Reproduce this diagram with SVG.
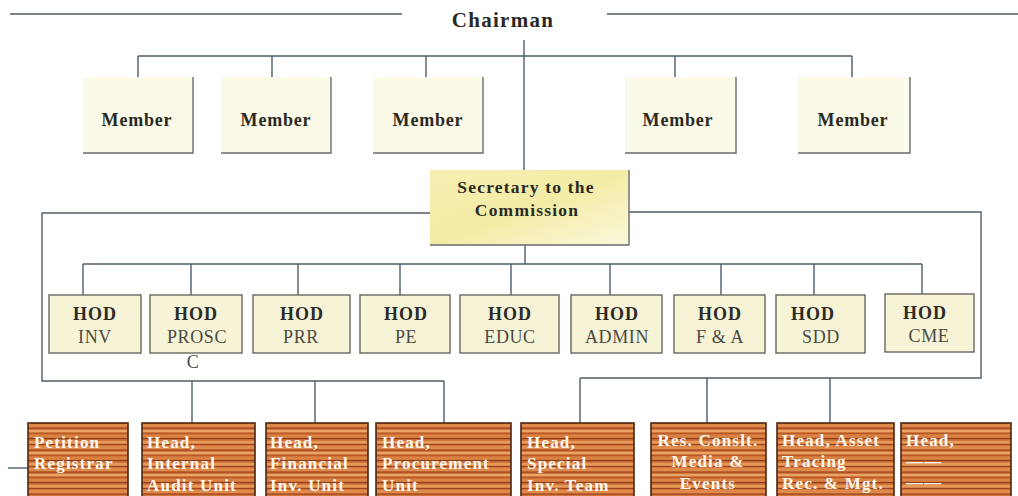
<svg xmlns="http://www.w3.org/2000/svg" width="1018" height="496" viewBox="0 0 1018 496">
<defs>
<style>
.ln{stroke:#4f5d68;stroke-width:1.4;fill:none}
.edge{stroke:#6b6b6b;stroke-width:1.4;fill:none}
.mem{fill:#fbf9e8}
.mt{font-family:"Liberation Serif",serif;font-weight:bold;font-size:18px;fill:#2a2a22;text-anchor:middle;letter-spacing:0.8px}
.hod{fill:#f7f3d6;stroke:#5c5c55;stroke-width:1.3}
.h1{font-family:"Liberation Serif",serif;font-weight:bold;font-size:18px;fill:#2c2c28;text-anchor:middle;letter-spacing:1px}
.h2{font-family:"Liberation Serif",serif;font-size:18px;fill:#4a4a44;text-anchor:middle;letter-spacing:0.6px}
.wood{fill:url(#wood);stroke:#4e2510;stroke-width:1.6}
.wt{font-family:"Liberation Serif",serif;font-weight:bold;font-size:17px;fill:#fff8ee;letter-spacing:1.2px}
</style>
<linearGradient id="sec" x1="0" y1="0" x2="1" y2="1">
<stop offset="0" stop-color="#f6efb2"/>
<stop offset="0.5" stop-color="#f3eca6"/>
<stop offset="1" stop-color="#fbf8dc"/>
</linearGradient>
<pattern id="wood" patternUnits="userSpaceOnUse" width="240" height="22">
<rect width="240" height="22" fill="#d0743a"/>
<rect y="1" width="240" height="2.5" fill="#e59a5c"/>
<rect y="4" width="240" height="1" fill="#9a4520"/>
<rect y="6" width="240" height="3" fill="#dd8a4c"/>
<rect y="9.5" width="240" height="1.3" fill="#a44c22"/>
<rect y="12" width="240" height="2" fill="#eaa566"/>
<rect y="15" width="240" height="1" fill="#b65a28"/>
<rect y="17" width="240" height="2.5" fill="#d98244"/>
<rect y="20" width="240" height="1.2" fill="#8f3e1a"/>
</pattern>
</defs>
<rect width="1018" height="496" fill="#ffffff"/>

<g id="connectors">
<path class="ln" d="M10 14H402M607 14H1018"/>
<path class="ln" d="M524 40V170"/>
<path class="ln" d="M138 56H852M138 56V77M272 56V77M426 56V77M675 56V77M852 56V77"/>
<path class="ln" d="M430 213H42V381H444M629 212H981V378H580"/>
<path class="ln" d="M192 381V423M315 381V423M444 381V423"/>
<path class="ln" d="M580 378V423M707 378V423M830 378V423"/>
<path class="ln" d="M525 245V264M83 264H922M83 264V295M191 264V295M298 264V295M400 264V295M511 264V295M610 264V295M721 264V295M814 264V295M922 264V294"/>
<path class="ln" d="M8 468H28"/>
</g>

<g id="chairman">
<text x="503" y="27" font-family="Liberation Serif, serif" font-weight="bold" font-size="21" fill="#2a2a24" text-anchor="middle" letter-spacing="1.3">Chairman</text>
</g>

<g id="member1"><rect class="mem" x="83" y="77" width="110" height="76"/><path class="edge" d="M83 153H193V77"/><text class="mt" x="137" y="126">Member</text></g>
<g id="member2"><rect class="mem" x="221" y="77" width="110" height="76"/><path class="edge" d="M221 153H331V77"/><text class="mt" x="276" y="126">Member</text></g>
<g id="member3"><rect class="mem" x="373" y="77" width="110" height="76"/><path class="edge" d="M373 153H483V77"/><text class="mt" x="428" y="126">Member</text></g>
<g id="member4"><rect class="mem" x="625" y="77" width="111" height="76"/><path class="edge" d="M625 153H736V77"/><text class="mt" x="678" y="126">Member</text></g>
<g id="member5"><rect class="mem" x="798" y="77" width="112" height="76"/><path class="edge" d="M798 153H910V77"/><text class="mt" x="853" y="126">Member</text></g>

<g id="secretary">
<rect x="430" y="170" width="199" height="75" fill="url(#sec)"/>
<path class="edge" d="M430 245H629V170"/>
<text x="526" y="193" font-family="Liberation Serif, serif" font-weight="bold" font-size="17.5" fill="#2a2a22" text-anchor="middle" letter-spacing="1.2">Secretary to the</text>
<text x="527" y="216" font-family="Liberation Serif, serif" font-weight="bold" font-size="17.5" fill="#2a2a22" text-anchor="middle" letter-spacing="1.2">Commission</text>
</g>

<g id="hod-inv"><rect class="hod" x="49" y="295" width="92" height="58"/><text class="h1" x="95" y="320">HOD</text><text class="h2" x="95" y="343">INV</text></g>
<g id="hod-prosc"><rect class="hod" x="150" y="295" width="92" height="58"/><text class="h1" x="196" y="320">HOD</text><text class="h2" x="197" y="343" letter-spacing="1.5">PROSC</text><text class="h2" x="193" y="368">C</text></g>
<g id="hod-prr"><rect class="hod" x="253" y="295" width="97" height="58"/><text class="h1" x="302" y="320">HOD</text><text class="h2" x="301" y="343">PRR</text></g>
<g id="hod-pe"><rect class="hod" x="360" y="295" width="90" height="58"/><text class="h1" x="406" y="320">HOD</text><text class="h2" x="406" y="343">PE</text></g>
<g id="hod-educ"><rect class="hod" x="460" y="295" width="99" height="58"/><text class="h1" x="510" y="320">HOD</text><text class="h2" x="510" y="343">EDUC</text></g>
<g id="hod-admin"><rect class="hod" x="571" y="295" width="91" height="58"/><text class="h1" x="617" y="320">HOD</text><text class="h2" x="617" y="343">ADMIN</text></g>
<g id="hod-fa"><rect class="hod" x="674" y="295" width="91" height="58"/><text class="h1" x="720" y="320">HOD</text><text class="h2" x="720" y="343">F &amp; A</text></g>
<g id="hod-sdd"><rect class="hod" x="776" y="295" width="89" height="58"/><text class="h1" x="813" y="320">HOD</text><text class="h2" x="821" y="343">SDD</text></g>
<g id="hod-cme"><rect class="hod" x="885" y="294" width="89" height="58"/><text class="h1" x="925" y="319">HOD</text><text class="h2" x="929" y="342">CME</text></g>

<g id="petition-registrar"><rect class="wood" x="28" y="423" width="100" height="80"/><text class="wt" x="34" y="448">Petition</text><text class="wt" x="34" y="469">Registrar</text></g>
<g id="head-internal-audit"><rect class="wood" x="142" y="423" width="113" height="80"/><text class="wt" x="147" y="448">Head,</text><text class="wt" x="147" y="469">Internal</text><text class="wt" x="147" y="491">Audit Unit</text></g>
<g id="head-financial-inv"><rect class="wood" x="266" y="423" width="102" height="80"/><text class="wt" x="270" y="448">Head,</text><text class="wt" x="270" y="469">Financial</text><text class="wt" x="270" y="491">Inv. Unit</text></g>
<g id="head-procurement"><rect class="wood" x="376" y="423" width="135" height="80"/><text class="wt" x="382" y="448">Head,</text><text class="wt" x="382" y="469">Procurement</text><text class="wt" x="382" y="491">Unit</text></g>
<g id="head-special-inv"><rect class="wood" x="521" y="423" width="113" height="80"/><text class="wt" x="527" y="448">Head,</text><text class="wt" x="527" y="469">Special</text><text class="wt" x="527" y="491">Inv. Team</text></g>
<g id="res-consult"><rect class="wood" x="651" y="423" width="115" height="80"/><text class="wt" x="708" y="446" text-anchor="middle" letter-spacing="0.6">Res. Conslt.</text><text class="wt" x="708" y="467" text-anchor="middle">Media &amp;</text><text class="wt" x="708" y="489" text-anchor="middle">Events</text></g>
<g id="head-asset-tracing"><rect class="wood" x="777" y="423" width="117" height="80"/><text class="wt" x="782" y="446" letter-spacing="0.6">Head, Asset</text><text class="wt" x="782" y="467">Tracing</text><text class="wt" x="782" y="489" letter-spacing="0.6">Rec. &amp; Mgt.</text></g>
<g id="head-blank"><rect class="wood" x="901" y="423" width="110" height="80"/><text class="wt" x="906" y="446">Head,</text><text class="wt" x="906" y="467" font-size="12">——</text><text class="wt" x="906" y="488" font-size="12">——</text></g>
</svg>
